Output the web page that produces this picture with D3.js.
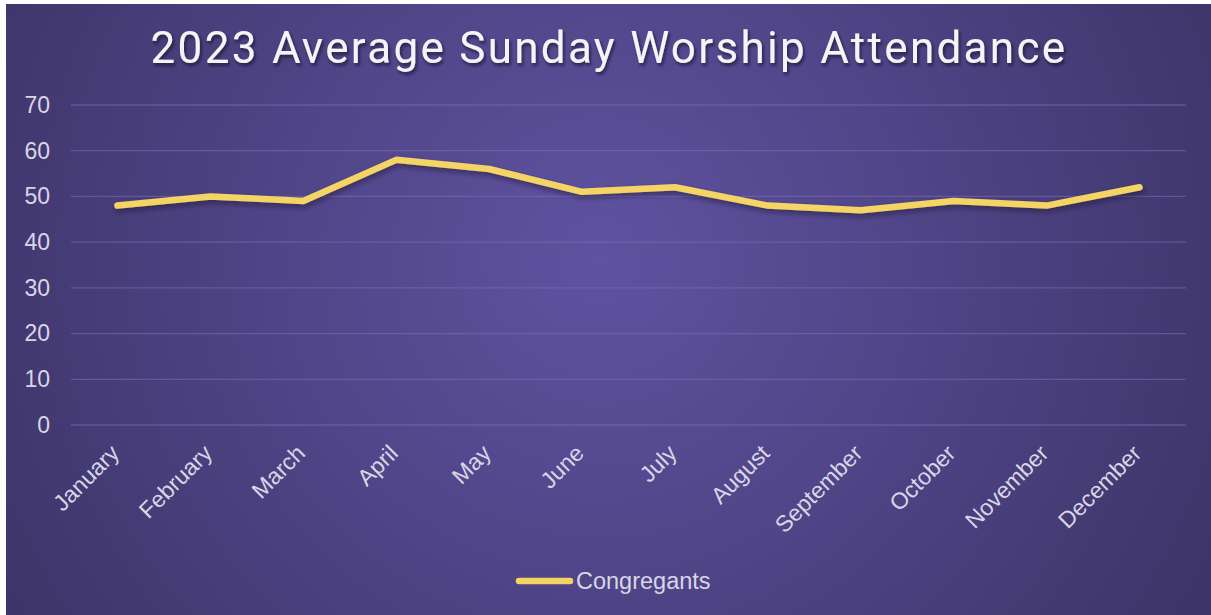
<!DOCTYPE html>
<html>
<head>
  <meta charset="utf-8">
  <title>2023 Average Sunday Worship Attendance</title>
  <script src="https://cdnjs.cloudflare.com/ajax/libs/d3/7.8.5/d3.min.js"></script>
  <style>
    body { margin: 0; background: #fff; }
    svg { display: block; font-family: Arial, "Liberation Sans", sans-serif; }
    .grid line { stroke: #7a6fb0; stroke-opacity: 0.55; stroke-width: 1.3px; }
    .axis text { fill: #d8d6e6; font-size: 23px; font-family: Arial, "Liberation Sans", sans-serif; }
    .line { fill: none; stroke: #f5d466; stroke-width: 6.5px; stroke-linejoin: round; stroke-linecap: round; }
  </style>
</head>
<body>
<svg id="chart" width="1211" height="615"></svg>

<script>
  var months = ["January", "February", "March", "April", "May", "June",
                "July", "August", "September", "October", "November", "December"];
  var attendance = [48, 50, 49, 58, 56, 51, 52, 48, 47, 49, 48, 52];
  var yTicks = [0, 10, 20, 30, 40, 50, 60, 70];
  var seriesName = "Congregants";
  var title = "2023 Average Sunday Worship Attendance";

  var svg = d3.select("svg"),
      margin = {top: 105, right: 25, bottom: 190, left: 71},
      width = 1186 - margin.left,
      height = 425 - margin.top;

  var defs = svg.append("defs");
  var bg = defs.append("radialGradient")
      .attr("id", "bg")
      .attr("gradientUnits", "userSpaceOnUse")
      .attr("cx", 600).attr("cy", 260).attr("r", 700);
  bg.append("stop").attr("offset", "0%").attr("stop-color", "#5f53a1");
  bg.append("stop").attr("offset", "100%").attr("stop-color", "#3d3468");

  var shadow = defs.append("filter").attr("id", "shadow")
      .attr("x", "-10%").attr("y", "-30%").attr("width", "120%").attr("height", "160%");
  shadow.append("feDropShadow").attr("dx", 1).attr("dy", 3).attr("stdDeviation", 2.5)
      .attr("flood-color", "#1a1530").attr("flood-opacity", 0.55);

  var tshadow = defs.append("filter").attr("id", "tshadow")
      .attr("x", "-5%").attr("y", "-30%").attr("width", "110%").attr("height", "160%");
  tshadow.append("feDropShadow").attr("dx", 1.5).attr("dy", 2.5).attr("stdDeviation", 1.5)
      .attr("flood-color", "#15102a").attr("flood-opacity", 0.7);

  svg.append("rect")
      .attr("x", 6).attr("y", 4)
      .attr("width", 1205).attr("height", 611)
      .attr("fill", "url(#bg)");

  svg.append("text")
      .attr("x", 609)
      .attr("y", 63)
      .attr("text-anchor", "middle")
      .attr("fill", "#f4f4f6")
      .attr("filter", "url(#tshadow)")
      .style("font-family", "Roboto, Arial, sans-serif")
      .style("font-size", "44px")
      .style("letter-spacing", "2.3px")
      .text(title);

  var g = svg.append("g").attr("transform", "translate(" + margin.left + "," + margin.top + ")");

  var x = d3.scalePoint().domain(months).range([0, width]).padding(0.5);
  var y = d3.scaleLinear().domain([0, 70]).range([height, 0]);

  g.append("g")
      .attr("class", "grid")
      .selectAll("line")
      .data(yTicks)
      .enter().append("line")
      .attr("x1", 0).attr("x2", width)
      .attr("y1", function(d) { return y(d); })
      .attr("y2", function(d) { return y(d); });

  var yAxis = g.append("g")
      .attr("class", "axis axis--y")
      .call(d3.axisLeft(y).tickValues(yTicks).tickSize(0).tickPadding(21));
  yAxis.select(".domain").remove();

  var xAxis = g.append("g")
      .attr("class", "axis axis--x")
      .attr("transform", "translate(0," + height + ")")
      .call(d3.axisBottom(x).tickSize(0));
  xAxis.select(".domain").remove();
  xAxis.selectAll("text")
      .attr("text-anchor", "end")
      .attr("y", 0)
      .attr("dy", "0.35em")
      .attr("transform", "translate(-3,24) rotate(-45)");

  var line = d3.line()
      .x(function(d, i) { return x(months[i]); })
      .y(function(d) { return y(d); });

  g.append("path")
      .datum(attendance)
      .attr("class", "line")
      .attr("filter", "url(#shadow)")
      .attr("d", line);

  // legend
  var legend = svg.append("g").attr("transform", "translate(519,581)");
  legend.append("line")
      .attr("x1", 0).attr("x2", 51)
      .attr("y1", 0).attr("y2", 0)
      .attr("stroke", "#f5d466")
      .attr("stroke-width", 6.5)
      .attr("stroke-linecap", "round");
  legend.append("text")
      .attr("x", 57)
      .attr("y", 0)
      .attr("dy", "0.35em")
      .attr("fill", "#d8d6e6")
      .style("font-size", "23.5px")
      .text(seriesName);
</script>
</body>
</html>
